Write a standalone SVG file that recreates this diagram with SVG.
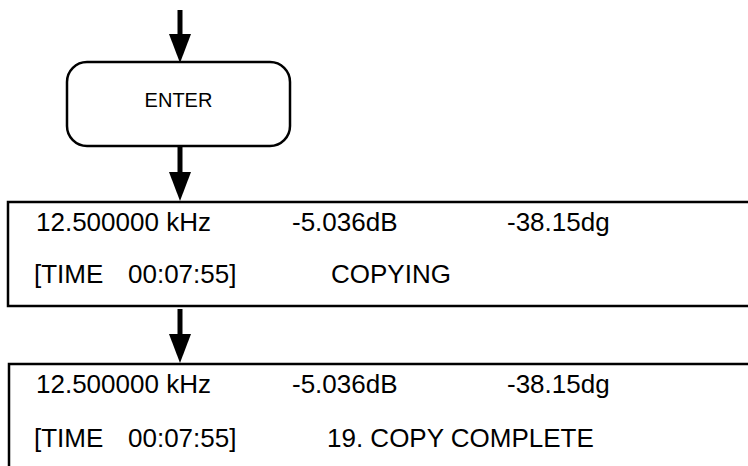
<svg xmlns="http://www.w3.org/2000/svg" width="748" height="466" viewBox="0 0 748 466">
<style>
.t{font-family:"Liberation Sans",Arial,sans-serif;font-size:26px;fill:#000}
.e{font-family:"Liberation Sans",Arial,sans-serif;font-size:20px;fill:#000}
.box{fill:#fff;stroke:#000;stroke-width:2.5}
.c{stroke:#000;stroke-width:5;fill:none}
</style>
<defs>
<marker id="ah" markerUnits="userSpaceOnUse" markerWidth="29" markerHeight="22" viewBox="0 0 29 22" refX="0" refY="11" orient="auto">
<path d="M0,0 L29,11 L0,22 z" fill="#000"/>
</marker>
</defs>
<rect width="748" height="466" fill="#fff"/>
<g id="connectors">
<line class="c" x1="180" y1="10" x2="180" y2="34" marker-end="url(#ah)"/>
<line class="c" x1="180" y1="147" x2="180" y2="172" marker-end="url(#ah)"/>
<line class="c" x1="180" y1="309" x2="180" y2="334" marker-end="url(#ah)"/>
</g>
<g id="enter">
<rect class="box" x="67" y="62" width="223" height="84" rx="20" ry="20"/>
<text class="e" x="178.5" y="107" text-anchor="middle">ENTER</text>
</g>
<g id="display1">
<rect class="box" x="8" y="202" width="760" height="104"/>
<text class="t" x="36" y="231">12.500000 kHz</text>
<text class="t" x="292" y="231">-5.036dB</text>
<text class="t" x="507" y="231">-38.15dg</text>
<text class="t" x="34" y="283">[TIME</text>
<text class="t" x="128" y="283">00:07:55]</text>
<text class="t" x="331" y="283">COPYING</text>
</g>
<g id="display2">
<rect class="box" x="9" y="364" width="760" height="120"/>
<text class="t" x="36" y="393">12.500000 kHz</text>
<text class="t" x="292" y="393">-5.036dB</text>
<text class="t" x="507" y="393">-38.15dg</text>
<text class="t" x="34" y="447">[TIME</text>
<text class="t" x="128" y="447">00:07:55]</text>
<text class="t" x="327" y="447">19. COPY COMPLETE</text>
</g>
</svg>
